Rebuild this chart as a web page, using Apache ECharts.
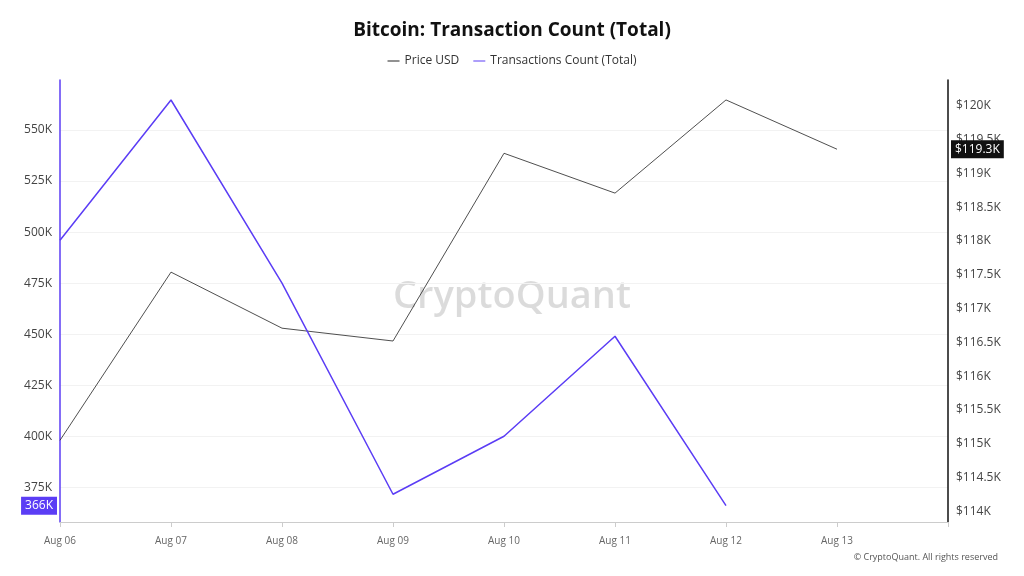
<!DOCTYPE html>
<html><head><meta charset="utf-8">
<script src="https://cdn.jsdelivr.net/npm/echarts@6/dist/echarts.min.js"></script>
<style>html,body{margin:0;padding:0;background:#fff}#c{width:1024px;height:576px}</style>
</head><body><div id="c"></div>
<script>
const categories = ['Aug 06','Aug 07','Aug 08','Aug 09','Aug 10','Aug 11','Aug 12','Aug 13',''];
const txCount = [496000, 564700, 475000, 371600, 400000, 449000, 366000, null, null];
const priceUsd = [115050, 117540, 116710, 116520, 119300, 118710, 120090, 119360, null];
const txTicks = [375000, 400000, 425000, 450000, 475000, 500000, 525000, 550000];
const priceTicks = [114000, 114500, 115000, 115500, 116000, 116500, 117000, 117500, 118000, 118500, 119000, 119500, 120000];
const lastTx = 366000, lastPrice = 119360;

const chart = echarts.init(document.getElementById('c'));
const font = 'Open Sans';
chart.setOption({
  textStyle: { fontFamily: font },
  title: { text: 'Bitcoin: Transaction Count (Total)', left: 'center', top: 16,
    textStyle: { fontSize: 19, fontWeight: 'bold', color: '#111', fontFamily: font } },
  legend: { top: 50, itemWidth: 12, itemHeight: 1, icon: 'rect', itemGap: 14,
    textStyle: { fontSize: 12, color: '#333' },
    data: ['Price USD', 'Transactions Count (Total)'] },
  graphic: [
    { type: 'text', left: 'center', top: 278, style: { text: 'CryptoQuant', fontSize: 38, fontWeight: 600, fill: 'rgba(0,0,0,0.14)', fontFamily: font } },
    { type: 'text', right: 26, top: 553, style: { text: '© CryptoQuant. All rights reserved', fontSize: 9, fill: '#555', fontFamily: font } }
  ],
  grid: { left: 60, right: 76, top: 80, bottom: 54 },
  xAxis: { type: 'category', data: categories, boundaryGap: false,
    axisLine: { lineStyle: { color: '#ccc' } }, axisTick: { show: true, lineStyle: { color: '#ccc' } },
    axisLabel: { color: '#666', fontSize: 10, margin: 14 } },
  yAxis: [
    { type: 'value', min: 358000, max: 574500, position: 'left',
      axisLine: { show: true, lineStyle: { color: '#5b3df5', width: 1.5 } },
      axisTick: { customValues: txTicks },
      axisLabel: { color: '#444', fontSize: 12, customValues: txTicks,
        formatter: v => (v / 1000) + 'K' },
      splitLine: { lineStyle: { color: '#f2f2f2' } },
      axisPointer: { show: true, value: lastTx, status: 'show', triggerTooltip: false,
        lineStyle: { opacity: 0 },
        label: { backgroundColor: '#5b3df5', color: '#fff', fontSize: 12, padding: [3, 4], borderRadius: 0,
          formatter: p => Math.round(p.value / 1000) + 'K' } } },
    { type: 'value', min: 113840, max: 120385, position: 'right',
      axisLine: { show: true, lineStyle: { color: '#111', width: 1.5 } },
      axisTick: { customValues: priceTicks },
      axisLabel: { color: '#444', fontSize: 12, customValues: priceTicks,
        formatter: v => '$' + (v / 1000) + 'K' },
      splitLine: { show: false },
      axisPointer: { show: true, value: lastPrice, status: 'show', triggerTooltip: false,
        lineStyle: { opacity: 0 },
        label: { backgroundColor: '#111', color: '#fff', fontSize: 12, padding: [3, 4], borderRadius: 0,
          formatter: p => '$' + (Math.floor(p.value / 100) / 10) + 'K' } } }
  ],
  axisPointer: { triggerOn: 'none' },
  series: [
    { name: 'Price USD', type: 'line', yAxisIndex: 1, data: priceUsd, symbol: 'none',
      itemStyle: { color: '#222' }, lineStyle: { color: '#222', width: 0.8 } },
    { name: 'Transactions Count (Total)', type: 'line', yAxisIndex: 0, data: txCount, symbol: 'none',
      itemStyle: { color: '#5b3df5' }, lineStyle: { color: '#5b3df5', width: 1.5 } }
  ]
});
</script></body></html>
